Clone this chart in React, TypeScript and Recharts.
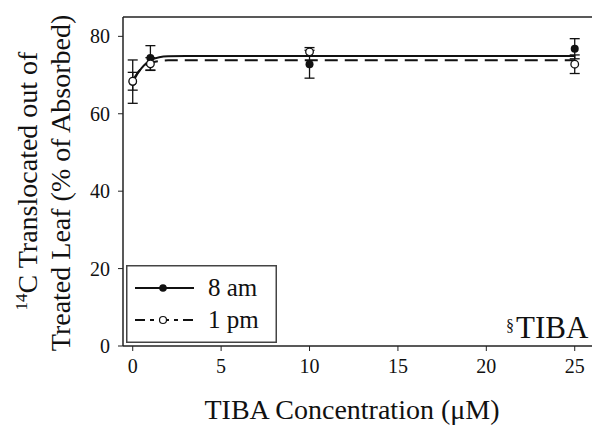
import { ComposedChart, Line, Scatter, ErrorBar, XAxis, YAxis, Legend, ReferenceLine, Label } from "recharts";

// fitted curves
const fitX = [0, 0.25, 0.5, 0.75, 1, 1.5, 2, 3, 5, 10, 25];
const fit8am = [68, 70.2, 71.8, 73, 73.8, 74.6, 74.85, 74.9, 74.9, 74.9, 74.9];
const fit1pm = [68.6, 70.4, 71.7, 72.6, 73.1, 73.6, 73.8, 73.8, 73.8, 73.8, 73.8];

// measured means and error bars
const concentrations = [0, 1, 10, 25];
const mean8am = [68.3, 74.4, 72.8, 76.8];
const err8am = [5.6, 3.2, 3.6, 2.6];
const mean1pm = [68.4, 72.9, 76, 72.8];
const err1pm = [2.3, 1.6, 1.1, 2.4];

const xTicks = [0, 5, 10, 15, 20, 25];
const yTicks = [0, 20, 40, 60, 80];
const seriesNames = ["8 am", "1 pm"];

const FONT = "Liberation Serif";
const INK = "#111";
const serif = { fontFamily: FONT };

const curve8am = fitX.map((x, i) => ({ x, y: fit8am[i] }));
const curve1pm = fitX.map((x, i) => ({ x, y: fit1pm[i] }));
const points8am = concentrations.map((x, i) => ({ x, y: mean8am[i], err: err8am[i] }));
const points1pm = concentrations.map((x, i) => ({ x, y: mean1pm[i], err: err1pm[i] }));

const FilledDot = (props: any) => <circle cx={props.cx} cy={props.cy} r={4} fill={INK} />;
const OpenDot = (props: any) => (
  <circle cx={props.cx} cy={props.cy} r={3.8} fill="#fff" stroke={INK} strokeWidth={1.3} />
);

const renderLegend = () => (
  <svg width={151} height={78} style={{ display: "block", ...serif }}>
    <rect x={0.75} y={0.75} width={149.5} height={76.5} fill="#fff" stroke="#444" strokeWidth={1.5} />
    <line x1={9} x2={68} y1={23} y2={23} stroke={INK} strokeWidth={2} />
    <circle cx={37} cy={23} r={3.8} fill={INK} />
    <text x={82} y={31} fontSize={25} style={serif} fill={INK}>
      {seriesNames[0]}
    </text>
    <line x1={9} x2={68} y1={55} y2={55} stroke={INK} strokeWidth={2} strokeDasharray="10 5 4 5" />
    <circle cx={37} cy={55} r={3.5} fill="#fff" stroke={INK} strokeWidth={1.2} />
    <text x={82} y={63} fontSize={25} style={serif} fill={INK}>
      {seriesNames[1]}
    </text>
  </svg>
);

const YTitle = () => (
  <g style={serif} fontSize={28} fill={INK}>
    <text transform="translate(37,181) rotate(-90)" textAnchor="middle" style={serif}>
      <tspan fontSize={17} dy={-10}>14</tspan>
      <tspan dy={10}>C Translocated out of</tspan>
    </text>
    <text transform="translate(70,183) rotate(-90)" textAnchor="middle" style={serif}>
      Treated Leaf (% of Absorbed)
    </text>
  </g>
);

const XTitle = () => (
  <text x={352} y={419} textAnchor="middle" style={serif} fontSize={28} fill={INK}>
    TIBA Concentration (μM)
  </text>
);

const tickStyle = { fontSize: 20, fill: INK, style: serif, fontFamily: FONT };

export default function App() {
  return (
    <div
      style={{
        position: "absolute",
        left: 0,
        top: 0,
        width: 592,
        height: 435,
        overflow: "hidden",
        background: "#fff",
        ...serif,
      }}
    >
      <ComposedChart width={610} height={435} margin={{ top: 17, right: 13, bottom: 59, left: 0 }} style={serif}>
        <XAxis
          type="number"
          dataKey="x"
          domain={[-0.55, 26.26]}
          ticks={xTicks}
          allowDataOverflow
          height={30}
          tickSize={5}
          tickMargin={8}
          tick={tickStyle}
          axisLine={{ stroke: "#222", strokeWidth: 1.5 }}
          tickLine={{ stroke: "#222" }}
        >
          <Label content={<XTitle />} />
        </XAxis>
        <YAxis
          type="number"
          domain={[0, 85]}
          ticks={yTicks}
          allowDataOverflow
          width={123}
          tickSize={5}
          tickMargin={8}
          tick={tickStyle}
          axisLine={{ stroke: "#222", strokeWidth: 1.5 }}
          tickLine={{ stroke: "#222" }}
        >
          <Label content={<YTitle />} />
        </YAxis>
        <ReferenceLine y={85} stroke="#222" strokeWidth={1.5} ifOverflow="visible" />
        <Legend
          layout="vertical"
          align="center"
          verticalAlign="middle"
          content={renderLegend}
          wrapperStyle={{ left: 126, top: 265, width: 151, height: 78 }}
        />
        <Line
          data={curve8am}
          dataKey="y"
          name={seriesNames[0]}
          type="monotone"
          stroke={INK}
          strokeWidth={2}
          dot={false}
          isAnimationActive={false}
        />
        <Line
          data={curve1pm}
          dataKey="y"
          name={seriesNames[1]}
          type="monotone"
          stroke={INK}
          strokeWidth={2}
          strokeDasharray="13 7"
          dot={false}
          isAnimationActive={false}
        />
        <Scatter data={points8am} dataKey="y" shape={FilledDot} legendType="none" isAnimationActive={false}>
          <ErrorBar dataKey="err" direction="y" width={5} stroke={INK} strokeWidth={1.3} />
        </Scatter>
        <Scatter data={points1pm} dataKey="y" shape={OpenDot} legendType="none" isAnimationActive={false}>
          <ErrorBar dataKey="err" direction="y" width={5} stroke={INK} strokeWidth={1.3} />
        </Scatter>
        <text x={506} y={331} fontSize={16} style={serif} fill={INK}>§</text>
        <text x={516} y={338} fontSize={31} style={serif} fill={INK}>TIBA</text>
      </ComposedChart>
    </div>
  );
}
